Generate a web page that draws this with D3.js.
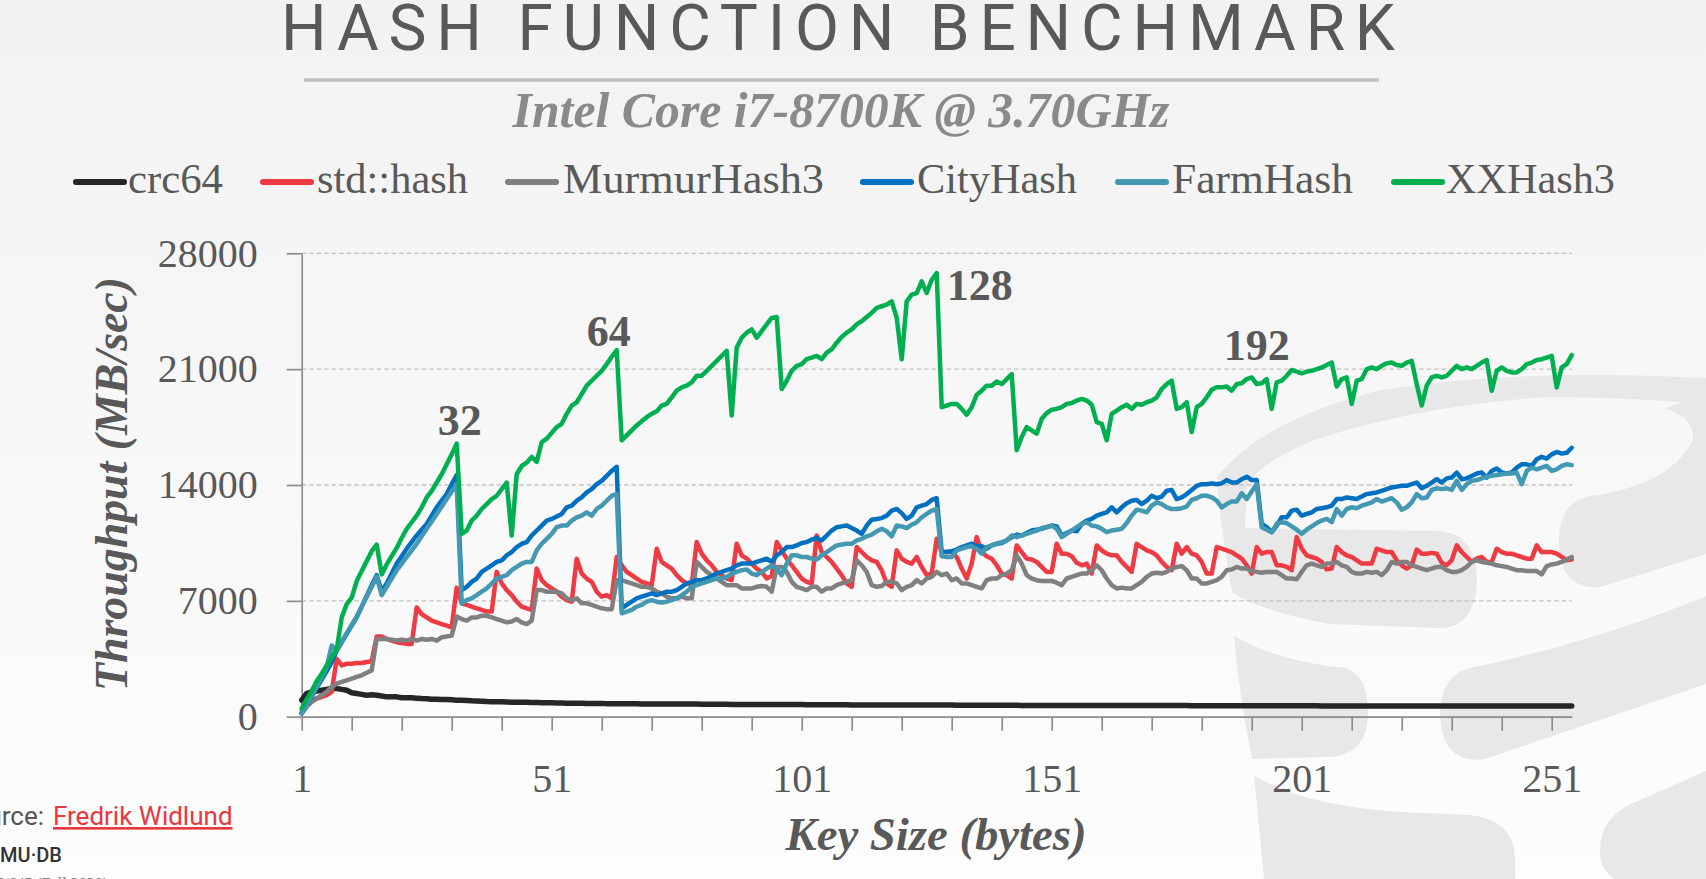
<!DOCTYPE html>
<html><head><meta charset="utf-8">
<script src="https://cdn.jsdelivr.net/npm/d3@7"></script>
<style>html,body{margin:0;padding:0;overflow:hidden;background:#f5f5f5}</style>
</head><body>
<svg id="c" width="1706" height="879"></svg>
<script>
// ---------------- DATA ----------------
const keySizes = Array.from({length:255}, (_, i) => i + 1);   // categories: key size in bytes
const xTickMarks = [1,11,21,31,41,51,61,71,81,91,101,111,121,131,141,151,161,171,181,191,201,211,221,231,241,251];
const xTickLabels = [1,51,101,151,201,251];
const yTicks = [0,7000,14000,21000,28000];
const seriesNames = ["crc64","std::hash","MurmurHash3","CityHash","FarmHash","XXHash3"];
const peakLabels = [32,64,128,192];

const crc64 = [
1000,1400,1500,1550,1600,1650,1700,1700,1650,1600,
1450,1400,1350,1300,1330,1300,1250,1200,1200,1200,
1150,1150,1140,1120,1100,1090,1050,1050,1040,1040,
1030,1000,990,980,960,950,940,920,910,900,
900,890,880,880,870,870,860,860,850,850,
840,830,830,820,820,810,810,800,800,800,
800,790,790,790,780,780,780,780,770,770,
770,770,770,760,760,760,760,760,760,760,
750,750,750,750,750,750,740,740,740,740,
740,740,740,740,730,730,730,730,730,730,
730,720,720,720,720,720,720,720,720,720,
710,710,710,710,710,710,710,710,700,700,
700,700,700,700,700,700,700,700,700,700,
700,690,690,690,690,690,690,690,690,690,
690,690,690,690,680,680,680,680,680,680,
680,680,680,680,680,680,680,680,680,670,
670,670,670,670,670,670,670,670,670,670,
670,670,670,670,670,670,670,670,660,660,
660,660,660,660,660,660,660,660,660,660,
660,660,660,660,660,660,660,660,660,660,
660,660,660,660,650,650,650,650,650,650,
650,650,650,650,650,650,650,650,650,650,
650,650,650,650,650,650,650,650,650,650,
645,645,645,645,645,645,645,645,645,645,
640,640,640,640,640,640,640,640,640,640,
640,640,640,640,640];

const stdHash = [
300,800,1000,1100,1200,1300,1500,3500,3100,3200,
3200,3250,3250,3300,3350,4850,4850,4700,4600,4500,
4450,4400,4400,6600,6200,6000,5800,5700,5600,5500,
5400,7800,6850,6750,6650,6550,6450,6350,6350,8750,
8050,7650,7350,6950,6650,6550,6450,8950,8250,7950,
7750,7550,7250,7050,6950,9550,8650,8350,8150,7550,
7250,7350,7150,9650,9150,8750,8550,8350,8150,8050,
7950,10150,9350,9150,8950,8550,8250,8050,7950,10550,
9850,9450,9150,8750,8550,8350,8250,10450,9750,9550,
9250,8950,8750,8350,8500,10550,10050,9550,9150,8750,
8350,8150,8050,10950,9950,9650,9350,8950,8550,8050,
7850,10250,9950,9650,9450,9350,8850,8050,7850,10050,
9550,9350,9250,9650,9050,8550,8650,10750,9950,9950,
9950,9650,8950,8350,9250,10850,9950,9700,9550,9150,
8650,8550,8350,10350,9950,9550,9500,9350,9050,8750,
8750,10450,9850,9850,9700,9300,9150,9250,8650,10350,
10050,9850,9750,9750,9350,9050,8750,10450,10250,10050,
9950,9750,9350,9050,8850,10450,9850,10250,9850,9750,
9350,8650,8650,10250,10150,10050,9950,9750,9550,9150,
8650,10250,9850,9950,9950,9150,9150,9050,8850,10850,
10150,9750,9650,9550,9350,8900,8950,10250,9950,9750,
9650,9450,9250,9250,9250,10150,10050,9950,9950,9450,
9150,8950,9150,10100,9850,9850,9900,9850,9300,9150,
9450,10350,9950,9650,9350,9550,9650,9350,9350,10150,
9950,9850,9850,9750,9650,9550,9550,10350,9950,9950,
9950,9850,9650,9450,9500];

const murmurHash3 = [
200,600,900,1100,1300,1500,1800,2000,2100,2200,
2300,2400,2500,2650,2800,4700,4700,4700,4650,4600,
4650,4600,4700,4600,4700,4650,4700,4600,4800,4850,
4900,6050,5900,5800,6000,6000,6100,6100,6000,5900,
5800,5700,5750,5900,5700,5600,5800,7650,7650,7550,
7550,7550,7450,7150,7050,7150,6850,6850,6750,6650,
6550,6500,6500,8250,8250,8150,8050,7950,7850,7850,
7750,7550,7450,7250,7150,7150,7250,7150,7150,9350,
9050,8750,8550,8350,8150,7950,7950,7950,7750,7750,
7750,7850,7900,7850,7550,9050,9050,8750,8150,7850,
7750,7650,7850,7850,7550,7750,7750,7950,8050,8150,
8250,9450,9150,8750,7950,7850,7900,8150,8150,8050,
7650,7850,7950,8250,8050,8350,8450,8750,8550,8650,
8250,8350,8050,8050,7950,7850,7750,8250,8350,8350,
8550,8650,8850,9750,9250,8550,8350,8250,8200,8200,
8200,8100,7950,8350,8450,8550,8650,8650,8850,9150,
8850,8350,7950,7750,7800,7750,7750,7950,8150,8450,
8650,8700,8650,8750,8950,9050,9100,8850,8350,8350,
8050,8050,8150,8250,8450,8850,8900,9050,8950,8950,
8800,8750,8700,8750,8750,8750,8550,8350,8350,8300,
8750,9150,9250,9150,9050,9250,9250,9350,9150,9050,
8750,8650,8650,8750,8700,8750,8550,8850,9350,9250,
9350,9350,9150,9050,8950,8850,8950,9050,9050,8850,
8750,8750,8850,9050,9350,9450,9350,9300,9250,9150,
9100,9050,8950,8850,8850,8800,8800,8800,8600,9100,
9200,9250,9350,9500,9650];

const cityHash = [
200,700,1200,1750,2250,2750,3300,4000,4500,5000,
5500,6000,6650,7300,7950,8550,7550,8050,8650,9250,
9700,10150,10550,10950,11300,11650,12150,12650,13050,13450,
14050,14600,7650,7850,8150,8350,8750,8950,9150,9350,
9450,9750,9950,10250,10450,10550,10950,11250,11550,11850,
11950,12100,12250,12650,12750,13050,13250,13550,13750,14050,
14250,14550,14850,15100,6550,6750,6950,7150,7250,7350,
7450,7350,7450,7550,7550,7650,7850,8050,8150,8250,
8250,8350,8500,8650,8750,8850,8950,9150,9250,9250,
9250,9350,9450,9550,9350,9750,9950,10250,10250,10350,
10500,10550,10700,10800,10650,10950,11250,11450,11500,11550,
11400,11250,11050,11550,11900,11950,12000,12150,12450,12550,
12300,11950,12150,12650,12750,12850,13100,13200,9950,9950,
10000,10100,10250,10350,10450,10300,10300,10150,10350,10450,
10500,10650,10850,11000,10950,11100,11250,11300,11350,11450,
11550,11500,10950,11100,11250,11200,11650,11850,11950,12150,
12250,12350,12650,12350,12650,12900,13050,13100,12850,13050,
13350,13200,13300,13650,13700,13150,13250,13450,13700,13950,
14050,14050,14100,14050,14100,14300,14150,14150,14350,14500,
14300,14300,11650,11450,11150,11550,12050,12050,12450,12500,
12150,12250,12350,12550,12600,12650,12750,13150,13150,13250,
13200,13150,13300,13450,13500,13550,13650,13750,13850,13900,
13950,13950,14050,14150,13800,13950,14150,14350,14150,14400,
14450,14750,14350,14400,14550,14700,14750,14450,14850,15000,
14750,14700,14750,15050,15250,15250,15150,15550,15700,15600,
15850,16000,15900,15950,16250];

const farmHash = [
200,700,1250,1800,2400,3000,4300,4000,4550,5050,
5550,6050,6650,7250,7850,8450,7350,7850,8350,8850,
9250,9650,10050,10450,10900,11350,11800,12250,12700,13150,
13600,14050,6850,7050,7150,7350,7550,7750,8050,8350,
8450,8550,8850,9050,9250,9350,9350,10050,10450,10750,
11050,11450,11550,11550,11850,12050,12150,12350,12150,12550,
12750,13050,13350,13450,6250,6350,6450,6650,6750,6950,
7050,6950,6900,6950,7050,7150,7350,7550,7850,7950,
8050,8150,8250,8350,8350,8450,8650,8750,8850,8900,
8650,8550,8750,8950,9150,8950,8550,9250,9750,9750,
9650,9650,9550,9500,9750,9950,10150,10350,10400,10450,
10450,10650,10750,10900,11000,11200,11350,11200,10900,11550,
11500,11400,11600,11750,12050,12250,12450,12550,9700,9650,
9650,10050,10150,10250,10300,10150,9850,10250,10350,10450,
10550,10650,10950,10850,10950,11050,11150,11250,11400,11450,
11550,11350,10850,11050,11250,11450,11650,11750,11550,11500,
11350,11150,11250,11300,11350,11700,12150,12500,12450,12350,
12750,12950,12850,12650,12550,12550,12600,12700,13100,13200,
13350,13350,13250,13050,12650,12850,13000,13000,13500,13150,
13600,14050,11450,11300,11150,11650,11750,11700,11500,11300,
11050,11300,11500,11700,11850,11950,11750,12550,12150,12550,
12650,12600,12750,12850,12950,13150,13000,13100,13200,12950,
12500,12650,12950,13450,13200,13250,13700,13800,13750,13800,
13700,14250,13700,14050,14250,14300,14400,14500,14550,14600,
14650,14700,14700,14750,14050,14850,15050,14950,15050,15150,
14850,14950,15150,15250,15200];

const xxHash3 = [
500,1050,1550,2150,2600,3100,3600,4050,6000,6800,
7200,8200,8800,9400,10000,10400,8600,9200,9700,10200,
10800,11350,11750,12150,12650,13250,13650,14150,14650,15250,
15850,16500,11050,11250,11850,12150,12550,12850,13150,13350,
13750,14150,10950,14650,15150,15350,15700,15400,16580,16800,
17150,17500,17700,18300,18800,19000,19500,20000,20300,20600,
20900,21300,21750,22150,16700,17000,17300,17600,17850,18100,
18300,18450,18800,18900,19300,19700,19900,20000,20200,20600,
20600,20900,21200,21500,21800,22100,18200,22300,22900,23200,
23400,22900,23300,23700,24100,24150,19800,20300,20900,21200,
21300,21600,21700,21800,21600,22000,22200,22600,22950,23200,
23400,23700,23900,24150,24400,24700,24800,24900,25100,24100,
21600,25100,25500,25600,26300,25600,26400,26800,18700,18800,
18900,18900,18600,18250,18700,19450,19700,20000,20000,20250,
20100,20400,20700,16100,16900,17500,17300,17100,18000,18350,
18550,18600,18700,18900,18950,19100,19200,19100,18850,17800,
17700,16700,18300,18500,18700,18850,18600,18900,18850,19000,
19100,19300,19800,20100,20300,18600,18700,19000,17200,18700,
18900,19300,19750,19900,19900,19950,19700,20100,20150,20400,
20500,20100,20150,20400,18600,20200,20300,20600,20950,20850,
20750,20850,20900,21000,21100,21250,21400,19950,20400,20500,
18900,20300,20400,21000,21100,21000,21200,21350,21400,21250,
21200,21400,21500,20100,18800,20000,20500,20600,20500,20600,
20900,21200,21000,21100,21000,21200,21400,21550,19700,20900,
21100,20900,20800,20800,21000,21300,21400,21550,21600,21700,
21800,19900,21100,21300,21850];

const seriesValues = [crc64, stdHash, murmurHash3, cityHash, farmHash, xxHash3];
const seriesColors = ["#262626","#ee3b43","#808080","#0070c0","#4398b2","#00b050"];

// ---------------- DRAW ----------------
const W = 1706, H = 879;
const svg = d3.select("#c");
const serif = "'Liberation Serif','Times New Roman',serif";
const grey = "#595959";

const defs = svg.append("defs");
const grad = defs.append("linearGradient").attr("id","bg").attr("x1",0).attr("y1",0).attr("x2",0).attr("y2",1);
grad.append("stop").attr("offset","0%").attr("stop-color","#f2f2f2");
grad.append("stop").attr("offset","100%").attr("stop-color","#fdfdfd");
svg.append("rect").attr("width",W).attr("height",H).attr("fill","url(#bg)");

// faint watermark logo (stacked-disc database shape)
const wm = svg.append("g").attr("fill","#e8e8e8");
[
 "M1217,477 Q1262,420 1381,390 Q1520,368 1706,378 L1706,404 Q1620,397 1549,397 Q1420,405 1314,440 Q1262,462 1247,484 L1245,528 L1440,531 Q1477,535 1477,580 Q1475,628 1440,628 L1330,624 Q1262,612 1232,592 Q1222,540 1217,477 Z",
 "M1706,390 L1706,554 Q1640,575 1600,587 Q1559,590 1559,541 Q1559,497 1599,495 Q1672,482 1693,440 Q1695,418 1665,408 L1706,395 Z",
 "M1234,636 Q1280,662 1345,668 Q1368,675 1368,712 Q1368,757 1325,757 L1252,759 Q1240,700 1234,636 Z",
 "M1480,666 Q1600,640 1706,596 L1706,684 Q1600,720 1485,759 Q1442,765 1440,715 Q1440,670 1480,666 Z",
 "M1254,775 Q1300,805 1400,812 L1470,815 Q1515,820 1515,860 L1515,879 L1264,879 Z",
 "M1600,850 Q1600,815 1640,800 L1706,771 L1706,879 L1615,879 Q1600,870 1600,850 Z"
].forEach(p => wm.append("path").attr("d", p));

// title
svg.append("text").attr("x",838).attr("y",50).attr("text-anchor","middle")
  .attr("font-family","Roboto, 'Liberation Sans', sans-serif").attr("font-weight",400)
  .attr("font-size",64).attr("fill",grey)
  .attr("textLength",1114).attr("lengthAdjust","spacing")
  .text("HASH FUNCTION BENCHMARK");
svg.append("line").attr("x1",304).attr("x2",1379).attr("y1",80).attr("y2",80)
  .attr("stroke","#bfbfbf").attr("stroke-width",3.5);
svg.append("text").attr("x",841).attr("y",127).attr("text-anchor","middle")
  .attr("font-family",serif).attr("font-style","italic").attr("font-weight","bold")
  .attr("font-size",50).attr("fill","#8a8a8a")
  .attr("textLength",657).attr("lengthAdjust","spacingAndGlyphs")
  .text("Intel Core i7-8700K @ 3.70GHz");

// legend
const legendLayout = [[73,128,95],[260,317,151],[505,563,261],[860,917,160],[1115,1172,181],[1391,1446,169]];
seriesNames.forEach((name, i) => {
  const [lx, tx, tw] = legendLayout[i];
  svg.append("line").attr("x1",lx+3).attr("x2",lx+51).attr("y1",182).attr("y2",182)
    .attr("stroke",seriesColors[i]).attr("stroke-width",6).attr("stroke-linecap","round");
  svg.append("text").attr("x",tx).attr("y",193).attr("font-family",serif).attr("font-size",42)
    .attr("fill",grey).attr("textLength",tw).attr("lengthAdjust","spacingAndGlyphs").text(name);
});

// scales
const x = d3.scaleLinear().domain([1,255]).range([301.7,1571.7]);
const y = d3.scaleLinear().domain([0,28000]).range([716.7,253.3]);

// gridlines
svg.append("g").selectAll("line").data(yTicks.filter(d => d > 0)).join("line")
  .attr("x1",x(1)).attr("x2",x(255)).attr("y1",d => y(d)).attr("y2",d => y(d))
  .attr("stroke","#c2c2c2").attr("stroke-width",1.3).attr("stroke-dasharray","4.5,3");

// axes
const yAxis = d3.axisLeft(y).tickValues(yTicks).tickSize(15).tickPadding(29).tickSizeOuter(0).tickFormat(d3.format("d"));
const gy = svg.append("g").attr("transform",`translate(${x(1)},0)`).call(yAxis);
const xAxis = d3.axisBottom(x).tickValues(xTickMarks).tickSize(14).tickPadding(33).tickSizeOuter(0)
  .tickFormat(d => xTickLabels.includes(d) ? d : "");
const gx = svg.append("g").attr("transform",`translate(0,${y(0)})`).call(xAxis);
[gy, gx].forEach(g => {
  g.attr("font-family",serif).attr("font-size",40);
  g.select(".domain").attr("stroke","#8c8c8c").attr("stroke-width",1.7);
  g.selectAll(".tick line").attr("stroke","#8c8c8c").attr("stroke-width",1.7);
  g.selectAll(".tick text").attr("fill",grey);
});

// axis titles
svg.append("text").attr("transform","translate(127,484) rotate(-90)").attr("text-anchor","middle")
  .attr("font-family",serif).attr("font-style","italic").attr("font-weight","bold")
  .attr("font-size",46).attr("fill",grey)
  .attr("textLength",414).attr("lengthAdjust","spacingAndGlyphs")
  .text("Throughput (MB/sec)");
svg.append("text").attr("x",936).attr("y",850).attr("text-anchor","middle")
  .attr("font-family",serif).attr("font-style","italic").attr("font-weight","bold")
  .attr("font-size",46).attr("fill",grey)
  .attr("textLength",301).attr("lengthAdjust","spacingAndGlyphs")
  .text("Key Size (bytes)");

// series
const line = d3.line().x((d, i) => x(keySizes[i])).y(d => y(d));
seriesValues.forEach((vals, i) => {
  svg.append("path").datum(vals).attr("d", line).attr("fill","none")
    .attr("stroke", seriesColors[i]).attr("stroke-width", i === 0 ? 5.5 : 4.5)
    .attr("stroke-linejoin","round").attr("stroke-linecap","round");
});

// peak annotations on XXHash3
const peakOffsets = {32:[3,-9,"middle"], 64:[-8,-4,"middle"], 128:[10,27,"start"], 192:[0,-24,"middle"]};
peakLabels.forEach(k => {
  const [dx, dy, anchor] = peakOffsets[k];
  svg.append("text").attr("x", x(k) + dx).attr("y", y(xxHash3[k-1]) + dy)
    .attr("text-anchor", anchor).attr("font-family",serif).attr("font-weight","bold")
    .attr("font-size",44).attr("fill",grey).text(k);
});

// source footer (partly off the left edge, as in the reference)
svg.append("text").attr("x",44).attr("y",825).attr("text-anchor","end")
  .attr("font-family","Roboto, sans-serif").attr("font-size",26).attr("fill","#555").text("Source:");
svg.append("text").attr("x",53).attr("y",825).attr("font-family","Roboto, sans-serif").attr("font-size",26)
  .attr("fill","#e8383d").attr("text-decoration","underline").text("Fredrik Widlund");
svg.append("text").attr("x",62).attr("y",862).attr("text-anchor","end")
  .attr("font-family","Roboto, sans-serif").attr("font-weight",500).attr("font-size",20).attr("fill","#333").text("CMU·DB");
svg.append("text").attr("x",108).attr("y",889).attr("text-anchor","end")
  .attr("font-family",serif).attr("font-size",16).attr("fill","#777").text("15-445/645 (Fall 2020)");
</script>
</body></html>
